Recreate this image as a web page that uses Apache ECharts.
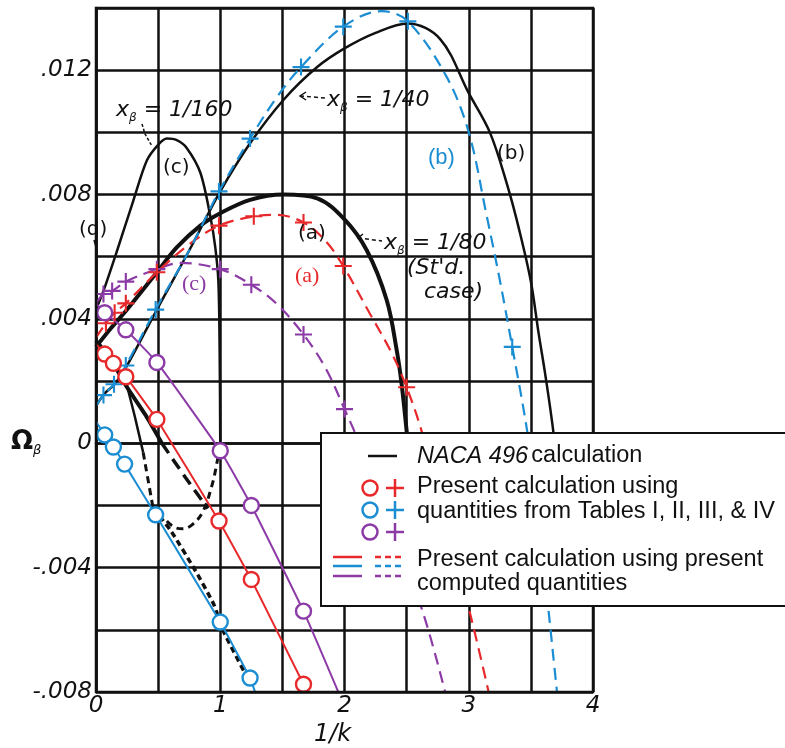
<!DOCTYPE html>
<html><head><meta charset="utf-8">
<script src="https://cdn.jsdelivr.net/npm/echarts@6/dist/echarts.min.js"></script>
<style>html,body{margin:0;padding:0;background:#fff}#c{width:785px;height:748px}</style>
</head><body><div id="c"></div>
<script>
// ---- axis ticks ----
const xTickValues = [0, 1, 2, 3, 4];
const xTickLabels = ['0', '1', '2', '3', '4'];
const yTickValues = [-0.008, -0.004, 0, 0.004, 0.008, 0.012];
const yTickLabels = ['-.008', '-.004', '0', '.004', '.008', '.012'];

// ---- NACA 496 calculation (black) ----
// (a) x_beta = 1/80, standard case (thick)
const nacaA = [[0,0.0031],[0.12,0.0037],[0.25,0.0043],[0.49,0.0055],[0.65,0.0063],[0.84,0.0070],[1.0,0.0074],[1.24,0.00783],[1.51,0.0080],[1.78,0.00788],[2.0,0.0072],[2.18,0.0062],[2.34,0.0046],[2.42,0.0030],[2.46,0.0019],[2.5,0.0004],[2.53,-0.0008]];
const nacaA_low = [[0,0.0033],[0.12,0.0027],[0.25,0.0018],[0.4,0.0009],[0.53,0.0]];
const nacaA_lowDash = [[0.53,0.0],[0.72,-0.0011],[0.9,-0.0021]];
// (b) x_beta = 1/40
const nacaB = [[0,0.0012],[0.07,0.0016],[0.15,0.0019],[0.25,0.0025],[0.49,0.0043],[0.75,0.0062],[1.0,0.0081],[1.24,0.00965],[1.51,0.01105],[1.78,0.0121],[2.0,0.0127],[2.25,0.0132],[2.51,0.0135],[2.77,0.0130],[3.0,0.01126],[3.17,0.0100],[3.31,0.0083],[3.41,0.0068],[3.5,0.0052],[3.56,0.0036],[3.62,0.0021],[3.68,0.0004],[3.71,-0.0008]];
// (c) x_beta = 1/160
const nacaC = [[0,0.0043],[0.06,0.0049],[0.17,0.0062],[0.3,0.0078],[0.41,0.0091],[0.5,0.0096],[0.57,0.0098],[0.65,0.00975],[0.73,0.0095],[0.84,0.0087],[0.92,0.0073],[0.96,0.0063],[0.985,0.0052],[0.995,0.0030],[1.0,0.0]];
const nacaC_low = [[0.57,-0.0025],[0.63,-0.0027],[0.7,-0.00275],[0.78,-0.0026],[0.86,-0.0022],[0.93,-0.0014],[0.97,-0.0007],[1.0,0.0]];
// other branches (d)
const nacaD = [[0.24,0.0020],[0.31,0.0009],[0.38,-0.0003]];
const nacaD_dash = [[0.38,-0.0003],[0.46,-0.0021]];
const nacaE_dash = [[0.46,-0.0021],[0.6,-0.0028],[0.8,-0.0041],[0.95,-0.0052],[1.02,-0.0060],[1.2,-0.0074]];

// ---- present calculation, Tables I-IV (circles, solid) ----
const redCircles = [[0.07,0.00287],[0.14,0.00257],[0.24,0.00214],[0.49,0.00077],[0.99,-0.0025],[1.25,-0.00438],[1.67,-0.00775]];
const redSolid = [[0,0.0032],[0.07,0.00287],[0.14,0.00257],[0.24,0.00214],[0.49,0.00077],[0.99,-0.0025],[1.25,-0.00438],[1.67,-0.00775],[1.71,-0.008]];
const blueCircles = [[0.07,0.00027],[0.14,-0.00012],[0.23,-0.00067],[0.48,-0.0023],[1.0,-0.00575],[1.24,-0.00755]];
const blueSolid = [[0,0.0007],[0.07,0.00027],[0.14,-0.00012],[0.23,-0.00067],[0.48,-0.0023],[1.0,-0.00575],[1.24,-0.00755],[1.28,-0.008]];
const purpleCircles = [[0.07,0.0042],[0.24,0.00365],[0.49,0.0026],[1.0,-0.00024],[1.25,-0.0020],[1.67,-0.0054]];
const purpleSolid = [[0,0.0045],[0.07,0.0042],[0.24,0.00365],[0.49,0.0026],[1.0,-0.00024],[1.25,-0.0020],[1.67,-0.0054],[1.95,-0.008]];

// ---- present calculation, present computed quantities (plus, dashed) ----
const redPlus = [[0.08,0.00386],[0.15,0.0042],[0.24,0.0045],[0.49,0.0055],[0.99,0.0070],[1.27,0.0073],[1.67,0.0071],[1.99,0.0057],[2.5,0.0018]];
const redDash = [[0,0.0034],[0.08,0.00386],[0.15,0.0042],[0.24,0.0045],[0.49,0.0055],[0.75,0.0064],[0.99,0.0070],[1.27,0.0073],[1.45,0.00735],[1.67,0.0071],[1.85,0.0065],[1.99,0.0057],[2.2,0.0042],[2.38,0.0029],[2.5,0.0018],[2.62,0.0004],[2.8,-0.0023],[3.0,-0.0053],[3.16,-0.008]];
const bluePlus = [[0.06,0.00155],[0.145,0.0019],[0.24,0.0025],[0.48,0.0043],[0.99,0.0081],[1.24,0.0098],[1.65,0.0121],[1.99,0.0134],[2.51,0.01357],[3.35,0.0031]];
const blueDash = [[0,0.0012],[0.06,0.00155],[0.145,0.0019],[0.24,0.0025],[0.48,0.0043],[0.75,0.0062],[0.99,0.0081],[1.24,0.0098],[1.45,0.0111],[1.65,0.0121],[1.99,0.0134],[2.3,0.0139],[2.51,0.01357],[2.82,0.0118],[3.0,0.0100],[3.14,0.0074],[3.25,0.00525],[3.35,0.0031],[3.47,0.0004],[3.55,-0.0020],[3.64,-0.0053],[3.71,-0.008]];
const purplePlus = [[0.06,0.0048],[0.13,0.0049],[0.24,0.0052],[0.49,0.0056],[1.0,0.0056],[1.25,0.0051],[1.67,0.0035],[2.0,0.0011]];
const purpleDash = [[0,0.0045],[0.06,0.0048],[0.13,0.0049],[0.24,0.0052],[0.49,0.0056],[0.68,0.0058],[1.0,0.0056],[1.25,0.0051],[1.45,0.0045],[1.67,0.0035],[1.85,0.0024],[2.0,0.0011],[2.12,0.0],[2.3,-0.0019],[2.62,-0.0053],[2.81,-0.008]];

const RED = '#E8292B', BLUE = '#1B8DD2', PURPLE = '#8C3BA6', BLACK = '#111';
const PLUS = 'path://M7,0H9V7H16V9H9V16H7V9H0V7H7Z';

function line(data, color, width, dashed, smooth, z) {
  return { type: 'line', data: data, symbol: 'none', smooth: smooth, z: z || 3,
    lineStyle: { color: color, width: width, type: dashed ? [12, 7] : 'solid' },
    silent: true, animation: false };
}
function circles(data, color) {
  return { type: 'scatter', data: data, symbol: 'circle', symbolSize: 15, z: 6, silent: true, animation: false,
    itemStyle: { color: '#fff', borderColor: color, borderWidth: 2.4, opacity: 1 } };
}
function pluses(data, color) {
  return { type: 'scatter', data: data, symbol: PLUS, symbolSize: 17, z: 6, silent: true, animation: false,
    itemStyle: { color: color, opacity: 1 } };
}

const hand = 'DejaVu Sans';
const series = [
  line(nacaA, BLACK, 4, false, 0.35, 2),
  line(nacaA_low, BLACK, 4, false, 0.2, 2),
  line(nacaA_lowDash, BLACK, 3.5, true, 0.2, 2),
  line(nacaB, BLACK, 2.5, false, 0.35, 2),
  line(nacaC, BLACK, 2.5, false, 0.3, 2),
  { ...line(nacaC_low, BLACK, 3, true, 0.4, 2), lineStyle: { color: BLACK, width: 3, type: [7, 5] } },
  line(nacaD, BLACK, 2.5, false, 0.2, 2),
  { ...line(nacaD_dash, BLACK, 3, true, 0.2, 2), lineStyle: { color: BLACK, width: 3, type: [7, 5] } },
  { ...line(nacaE_dash, BLACK, 3.5, true, 0.2, 2), lineStyle: { color: BLACK, width: 3.5, type: [6, 4] } },
  line(purpleDash, PURPLE, 2.2, true, 0.35, 3),
  line(redDash, RED, 2.2, true, 0.35, 3),
  line(blueDash, BLUE, 2.2, true, 0.35, 3),
  line(purpleSolid, PURPLE, 2, false, 0.15, 4),
  line(redSolid, RED, 2, false, 0.1, 4),
  line(blueSolid, BLUE, 2, false, 0.1, 4),
  pluses(purplePlus, PURPLE),
  pluses(redPlus, RED),
  pluses(bluePlus, BLUE),
  circles(purpleCircles, PURPLE),
  circles(redCircles, RED),
  circles(blueCircles, BLUE)
];

function txt(x, y, text, style) {
  return { type: 'text', x: x, y: y, z: 50, silent: true,
    style: Object.assign({ text: text, fill: BLACK, fontFamily: hand, fontSize: 20, textVerticalAlign: 'middle' }, style) };
}
function seg(points, color, width, dash, z) {
  return { type: 'polyline', z: z || 50, silent: true, shape: { points: points },
    style: { stroke: color, lineWidth: width, lineDash: dash || null, fill: null } };
}
const xbRich = {
  x: { fontFamily: hand, fontStyle: 'italic', fontSize: 22, fill: BLACK, lineHeight: 28, verticalAlign: 'middle' },
  s: { fontFamily: hand, fontStyle: 'italic', fontSize: 12, fill: BLACK, lineHeight: 28, verticalAlign: 'bottom' },
  t: { fontFamily: hand, fontStyle: 'italic', fontSize: 22, fill: BLACK, lineHeight: 28, verticalAlign: 'middle' }
};
const legendFont = '"Liberation Sans", Arial, sans-serif';
const LF = 23.5;
const LX = 321, LY = 433;
const graphics = [
  // in-plot annotations
  { type: 'text', x: 116, y: 96, z: 50, silent: true, style: { text: '{x|x}{s|β}{t| = 1/160}', rich: xbRich } },
  seg([[142, 124], [145, 134], [152, 146]], BLACK, 1.5, [3, 2]),
  txt(163, 168, '(c)', { fontSize: 20 }),
  txt(79, 230, '(d)', { fontSize: 20 }),
  seg([[94, 240], [96, 247]], BLACK, 1.5),
  { type: 'text', x: 327, y: 86, z: 50, silent: true, style: { text: '{x|x}{s|β}{t| = 1/40}', rich: xbRich } },
  seg([[300, 96], [325, 98]], BLACK, 1.5, [4, 3]),
  seg([[306, 92], [300, 96], [306, 100]], BLACK, 1.5),
  txt(428, 158, '(b)', { fill: BLUE, fontFamily: legendFont, fontSize: 22 }),
  txt(497, 154, '(b)', { fontSize: 20 }),
  txt(298, 234, '(a)', { fontSize: 20 }),
  txt(295, 276, '(a)', { fill: RED, fontFamily: '"Liberation Serif", serif', fontSize: 22 }),
  txt(182, 284, '(c)', { fill: PURPLE, fontFamily: '"Liberation Serif", serif', fontSize: 22 }),
  { type: 'text', x: 384, y: 229, z: 50, silent: true, style: { text: '{x|x}{s|β}{t| = 1/80}', rich: xbRich } },
  seg([[358, 238], [382, 241]], BLACK, 1.5, [4, 3]),
  seg([[363, 234], [358, 238], [363, 242]], BLACK, 1.5),
  txt(407, 268, "(St'd.", { fontStyle: 'italic', fontSize: 22 }),
  txt(424, 292, 'case)', { fontStyle: 'italic', fontSize: 22 }),
  // axis titles
  { type: 'text', x: 11, y: 427, z: 50, silent: true, style: { text: '{o|Ω}{s|β}', rich: {
      o: { fontFamily: hand, fontSize: 26, fontWeight: 'bold', fill: BLACK, lineHeight: 30, verticalAlign: 'middle' },
      s: { fontFamily: hand, fontSize: 13, fontStyle: 'italic', fill: BLACK, lineHeight: 30, verticalAlign: 'bottom' } } } },
  txt(314, 735, '1/k', { fontStyle: 'italic', fontSize: 24 }),
  // legend box
  { type: 'rect', z: 100, silent: true, shape: { x: LX, y: LY, width: 480, height: 173 },
    style: { fill: '#fff', stroke: BLACK, lineWidth: 2 } },
  seg([[368, 456], [397, 456]], BLACK, 2.5, null, 101),
  { type: 'circle', z: 101, silent: true, shape: { cx: 370, cy: 488, r: 7.5 }, style: { fill: '#fff', stroke: RED, lineWidth: 2.5 } },
  { type: 'circle', z: 101, silent: true, shape: { cx: 370, cy: 510, r: 7.5 }, style: { fill: '#fff', stroke: BLUE, lineWidth: 2.5 } },
  { type: 'circle', z: 101, silent: true, shape: { cx: 370, cy: 532, r: 7.5 }, style: { fill: '#fff', stroke: PURPLE, lineWidth: 2.5 } },
  seg([[395, 479], [395, 497]], RED, 2.5, null, 101), seg([[386, 488], [404, 488]], RED, 2.5, null, 101),
  seg([[395, 501], [395, 519]], BLUE, 2.5, null, 101), seg([[386, 510], [404, 510]], BLUE, 2.5, null, 101),
  seg([[395, 523], [395, 541]], PURPLE, 2.5, null, 101), seg([[386, 532], [404, 532]], PURPLE, 2.5, null, 101),
  seg([[333, 557], [362, 557]], RED, 2.5, null, 101), seg([[375, 557], [405, 557]], RED, 2.5, [6, 4], 101),
  seg([[333, 566], [362, 566]], BLUE, 2.5, null, 101), seg([[375, 566], [405, 566]], BLUE, 2.5, [6, 4], 101),
  seg([[333, 576], [362, 576]], PURPLE, 2.5, null, 101), seg([[375, 576], [405, 576]], PURPLE, 2.5, [6, 4], 101),
  { type: 'text', x: 417, y: 456, z: 101, silent: true, style: { text: '{i|NACA 496} {n|calculation}', textVerticalAlign: 'middle', rich: {
      i: { fontFamily: legendFont, fontStyle: 'italic', fontSize: LF, fill: BLACK },
      n: { fontFamily: legendFont, fontSize: LF, fill: BLACK } } } },
  { type: 'text', x: 417, y: 487, z: 101, silent: true, style: { text: 'Present calculation using', fontFamily: legendFont, fontSize: LF, fill: BLACK, textVerticalAlign: 'middle' } },
  { type: 'text', x: 417, y: 512, z: 101, silent: true, style: { text: 'quantities from Tables I, II, III, & IV', fontFamily: legendFont, fontSize: LF, fill: BLACK, textVerticalAlign: 'middle' } },
  { type: 'text', x: 417, y: 560, z: 101, silent: true, style: { text: 'Present calculation using present', fontFamily: legendFont, fontSize: LF, fill: BLACK, textVerticalAlign: 'middle' } },
  { type: 'text', x: 417, y: 584, z: 101, silent: true, style: { text: 'computed quantities', fontFamily: legendFont, fontSize: LF, fill: BLACK, textVerticalAlign: 'middle' } },
  // plot frame
  { type: 'rect', z: 10, silent: true, shape: { x: 96, y: 8, width: 497, height: 684 }, style: { fill: null, stroke: BLACK, lineWidth: 2.5 } }
];

const chart = echarts.init(document.getElementById('c'), null, { renderer: 'canvas' });
chart.setOption({
  animation: false,
  backgroundColor: '#fff',
  grid: { left: 96, top: 8, width: 497, height: 684, show: false },
  xAxis: {
    type: 'value', min: 0, max: 4, interval: 0.5,
    axisLine: { show: true, lineStyle: { color: BLACK, width: 2.5 } },
    axisTick: { show: false },
    splitLine: { show: true, lineStyle: { color: BLACK, width: 2.5 } },
    axisLabel: { margin: 3, color: BLACK, fontFamily: hand, fontStyle: 'italic', fontSize: 23,
      formatter: function (v) { const i = xTickValues.findIndex(t => Math.abs(t - v) < 1e-9); return i >= 0 ? xTickLabels[i] : ''; } }
  },
  yAxis: {
    type: 'value', min: -0.008, max: 0.014, interval: 0.002,
    axisLine: { show: true, lineStyle: { color: BLACK, width: 2.5 } },
    axisTick: { show: false },
    splitLine: { show: true, lineStyle: { color: BLACK, width: 2.5 } },
    axisLabel: { margin: 4, color: BLACK, fontFamily: hand, fontStyle: 'italic', fontSize: 23,
      formatter: function (v) { const i = yTickValues.findIndex(t => Math.abs(t - v) < 1e-9); return i >= 0 ? yTickLabels[i] : ''; } }
  },
  series: series,
  graphic: { elements: graphics }
});
</script></body></html>
